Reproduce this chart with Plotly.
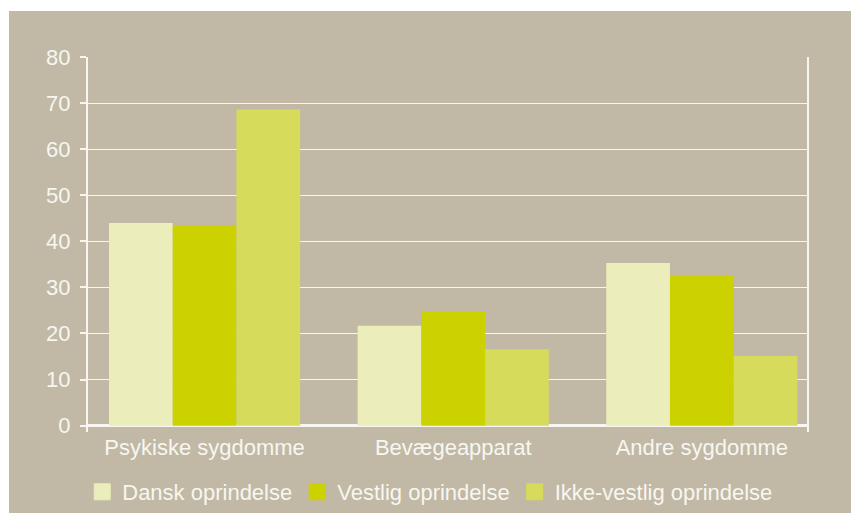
import plotly.graph_objects as go

categories = ["Psykiske sygdomme", "Bevægeapparat", "Andre sygdomme"]
series_names = ["Dansk oprindelse", "Vestlig oprindelse", "Ikke-vestlig oprindelse"]
dansk = [44.0, 21.7, 35.3]
vestlig = [43.4, 24.7, 32.6]
ikke_vestlig = [68.6, 16.6, 15.1]
y_ticks = [0, 10, 20, 30, 40, 50, 60, 70, 80]

colors = ["#EBEDBB", "#CCD100", "#D6DB5B"]
BG = "#C1B9A5"
TXT = "#F7F6F1"
LINE = "#F8F6F0"
FONT = "Liberation Sans, Arial, sans-serif"
FS = 22

fig = go.Figure()
for name, vals, col in zip(series_names, [dansk, vestlig, ikke_vestlig], colors):
    fig.add_trace(go.Bar(x=categories, y=vals, name=name, marker_color=col,
                         marker_line_width=0, showlegend=False))
# legend entries (larger square swatches)
for name, col in zip(series_names, colors):
    fig.add_trace(go.Scatter(x=[None], y=[None], mode="markers", name=name,
                             marker=dict(symbol="square", size=16, color=col,
                                         line=dict(width=1, color=col))))

fig.update_layout(
    width=851, height=513,
    margin=dict(l=88, r=44, t=57, b=81, autoexpand=False),
    paper_bgcolor="white",
    plot_bgcolor=BG,
    barmode="group", bargap=0.231, bargroupgap=0,
    font=dict(family=FONT, size=FS, color=TXT),
    showlegend=True,
    legend=dict(orientation="h", x=-0.008, xanchor="left",
                y=-0.16, yanchor="middle",
                bgcolor="rgba(0,0,0,0)", font=dict(family=FONT, size=FS, color=TXT),
                traceorder="normal"),
    shapes=[dict(type="rect", xref="paper", yref="paper",
                 x0=-0.1099, x1=1.07, y0=-0.25, y1=1.1227,
                 fillcolor=BG, line_width=0, layer="below")],
)
fig.update_xaxes(type="category", range=[-0.469, 2.423], showgrid=False,
                 showline=False, ticks="", zeroline=False,
                 tickfont=dict(family=FONT, size=FS, color=TXT))
fig.update_yaxes(range=[-1.38, 80], tickvals=y_ticks, showgrid=True,
                 gridcolor=LINE, gridwidth=1,
                 zeroline=True, zerolinecolor=LINE, zerolinewidth=2.5,
                 showline=True, linecolor=LINE, linewidth=2, mirror=True,
                 ticks="outside", ticklen=6, tickwidth=2, tickcolor=LINE,
                 ticklabelstandoff=5,
                 tickfont=dict(family=FONT, size=FS, color=TXT))

fig.write_html("out.html",
               config={"displayModeBar": False},
               post_script="document.body.style.margin='0';document.body.style.overflow='hidden';")
